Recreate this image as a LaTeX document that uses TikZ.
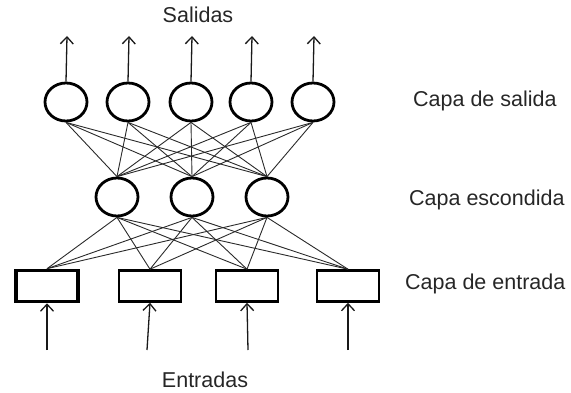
\documentclass[tikz,border=0pt]{standalone}
\usepackage{fontspec}
\setmainfont{Liberation Sans}
\usetikzlibrary{shapes.geometric,arrows.meta}
\definecolor{txt}{HTML}{262626}
\definecolor{ln}{HTML}{2a2a2a}
\begin{document}
\begin{tikzpicture}[x=1pt,y=-1pt,
  neuron/.style={ellipse,draw=black,line width=2.8pt,minimum width=42pt,minimum height=38pt,inner sep=0pt},
  inbox/.style={rectangle,draw=black,line width=2.6pt,minimum width=62pt,minimum height=31pt,inner sep=0pt},
  link/.style={draw=ln,line width=0.9pt},
  sig/.style={draw=black!90,line width=1.3pt,-{Straight Barb[length=7pt,width=13pt,line width=1.3pt]}},
  lab/.style={font=\fontsize{21.5}{26}\selectfont,text=txt,inner sep=0pt}]
\useasboundingbox (0,0) rectangle (571,393);
% output layer
\foreach \i/\x in {1/66,2/128,3/191,4/251,5/313}{
  \node[neuron] (o\i) at (\x,102) {};
  \coordinate (t\i) at (\x+1,36);
  \draw[sig] (o\i.north) -- (t\i);
}
% hidden layer
\foreach \i/\x in {1/117,2/192,3/267}{
  \node[neuron] (h\i) at (\x,197) {};
}
% input layer
\node[inbox,line width=3.6pt] (i1) at (47,286) {};
\node[inbox] (i2) at (150,286) {};
\node[inbox] (i3) at (247,286) {};
\node[inbox] (i4) at (348,286) {};
\foreach \i/\x in {1/47,2/147,3/248,4/348}{
  \coordinate (b\i) at (\x,350);
  \draw[sig] (b\i) -- (i\i.south);
}
% connections
\foreach \o in {1,...,5}{
  \foreach \h in {1,2,3}{
    \draw[link] (o\o.south) -- (h\h.north);
  }
}
\foreach \h in {1,2,3}{
  \foreach \i in {1,...,4}{
    \draw[link] (h\h.south) -- (i\i.north);
  }
}
% labels
\node[lab] (sal) at (198,15) {Salidas};
\node[lab] (ent) at (205,380) {Entradas};
\node[lab,anchor=west] (l1) at (413,101) {Capa de salida};
\node[lab,anchor=west] (l2) at (409,200) {Capa escondida};
\node[lab,anchor=west] (l3) at (405,284) {Capa de entrada};
\end{tikzpicture}
\end{document}
